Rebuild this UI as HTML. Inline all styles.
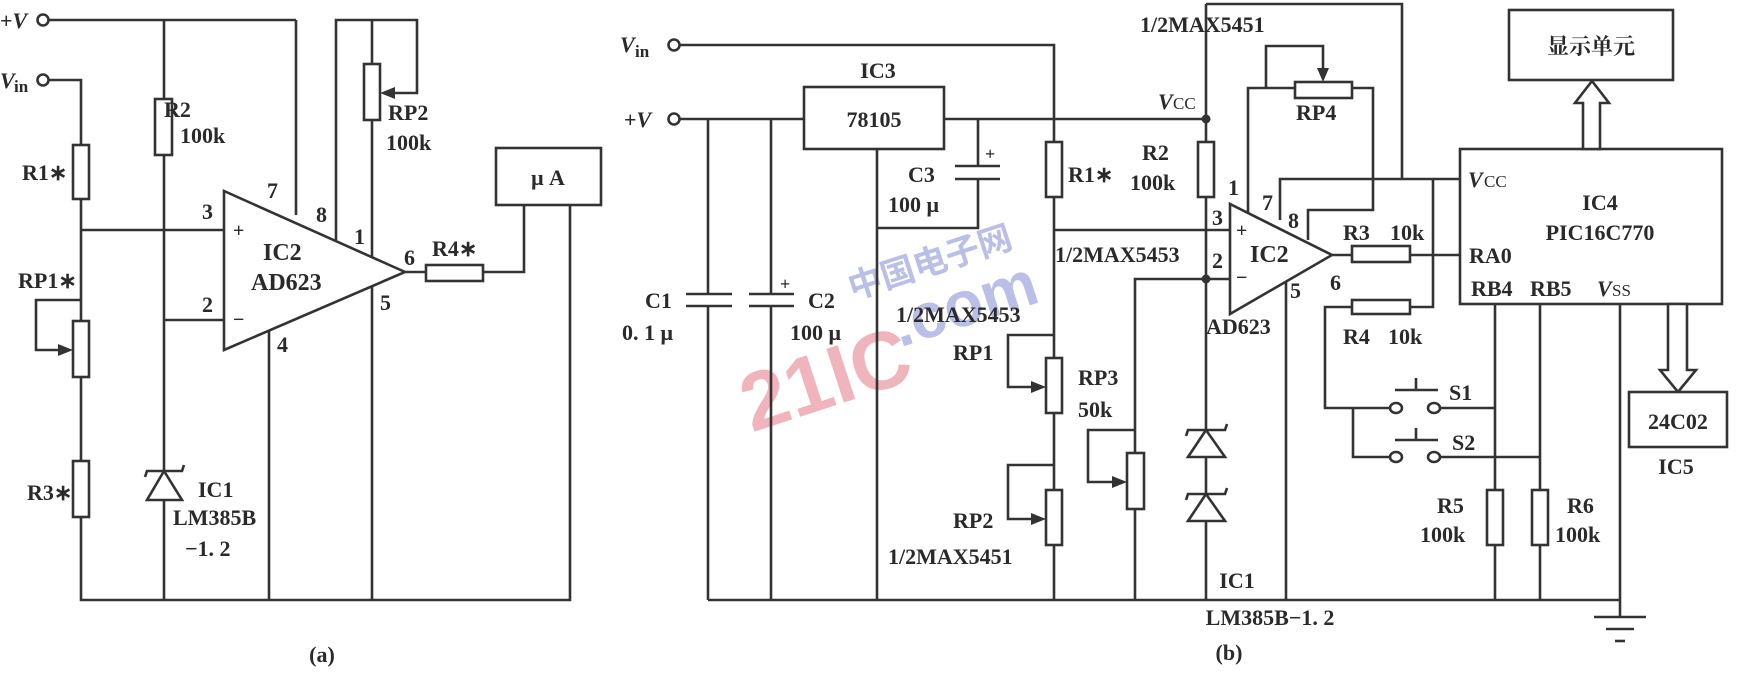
<!DOCTYPE html>
<html><head><meta charset="utf-8"><style>
html,body{margin:0;padding:0;background:#fff;}
svg{display:block}
text{font-family:"Liberation Serif","Noto Serif CJK SC",serif;font-weight:bold;fill:#2a2a2a;font-size:22px}
.l{stroke:#333;stroke-width:2.6;fill:none}
.b{stroke:#333;stroke-width:2.6;fill:#fff}
.f{fill:#333;stroke:none}
</style></head><body>
<svg width="1751" height="681" viewBox="0 0 1751 681" xmlns="http://www.w3.org/2000/svg">
<!-- watermark -->
<g transform="rotate(-18 800 380)">
<text x="738" y="415" style="font-family:'Liberation Sans',sans-serif;font-size:82px;font-weight:bold;fill:#f0b4bc">21IC</text>
<text x="905" y="380" style="font-family:'Liberation Sans',sans-serif;font-size:64px;font-weight:bold;fill:#b9bfe6">.com</text>
<text x="875" y="320" style="font-family:'Noto Sans CJK SC',sans-serif;font-size:34px;font-weight:bold;fill:#b9bfe6">中国电子网</text>
</g>

<!-- ===== Panel (a) ===== -->
<circle cx="43" cy="20" r="5.5" class="b"/>
<text x="0" y="28">+<tspan font-style="italic">V</tspan></text>
<polyline class="l" points="49,20 296,20"/>
<polyline class="l" points="336,240 336,20 417,20 417,93 385,93"/>
<polygon class="f" points="380,93 395,87 395,99"/>
<circle cx="43" cy="80" r="5.5" class="b"/>
<text x="0" y="88" font-style="italic">V</text><text x="14" y="92" style="font-size:17px">in</text>
<polyline class="l" points="49,80 81,80 81,600 570,600 570,205"/>
<rect x="73" y="145" width="16" height="54" class="b"/>
<rect x="73" y="321" width="16" height="56" class="b"/>
<rect x="73" y="461" width="16" height="56" class="b"/>
<polyline class="l" points="81,300 36,300 36,350 68,350"/>
<polygon class="f" points="73,350 58,344 58,356"/>
<line class="l" x1="81" y1="230" x2="224" y2="230"/>
<line class="l" x1="164" y1="20" x2="164" y2="600"/>
<rect x="155" y="99" width="17" height="56" class="b"/>
<line class="l" x1="164" y1="320" x2="224" y2="320"/>
<polygon class="b" points="164,471 147,500 182,500"/>
<polyline class="l" points="145,477 147,471 182,471 184,465"/>
<line class="l" x1="296" y1="20" x2="296" y2="215"/>
<line class="l" x1="372" y1="20" x2="372" y2="600"/>
<rect x="364" y="64" width="16" height="56" class="b"/>
<line class="l" x1="269" y1="300" x2="269" y2="600"/>
<polygon class="b" points="224,191 224,350 405,272"/>
<polyline class="l" points="405,272 426,272"/>
<rect x="426" y="265" width="57" height="16" class="b"/>
<polyline class="l" points="483,272 524,272 524,205"/>
<rect x="496" y="148" width="105" height="57" class="b"/>
<text x="548" y="185" text-anchor="middle">μ A</text>
<text x="164" y="117">R2</text><text x="180" y="143">100k</text>
<text x="388" y="120">RP2</text><text x="386" y="150">100k</text>
<text x="22" y="180">R1∗</text>
<text x="18" y="288">RP1∗</text>
<text x="27" y="500">R3∗</text>
<text x="198" y="497">IC1</text>
<text x="173" y="525">LM385B</text>
<text x="185" y="556">−1. 2</text>
<text x="202" y="219">3</text><text x="233" y="237" style="font-size:20px">+</text>
<text x="202" y="312">2</text><text x="233" y="326" style="font-size:20px">−</text>
<text x="267" y="198">7</text><text x="316" y="222">8</text><text x="354" y="244">1</text>
<text x="404" y="265">6</text><text x="380" y="310">5</text><text x="277" y="352">4</text>
<text x="263" y="260" style="font-size:24px">IC2</text>
<text x="251" y="290" style="font-size:24px">AD623</text>
<text x="432" y="256">R4∗</text>
<text x="322" y="662" text-anchor="middle">(a)</text>

<!-- ===== Panel (b) ===== -->
<circle cx="674" cy="45" r="5.5" class="b"/>
<text x="620" y="52" font-style="italic">V</text><text x="635" y="57" style="font-size:17px">in</text>
<polyline class="l" points="680,45 1054,45 1054,600"/>
<circle cx="674" cy="119" r="5.5" class="b"/>
<text x="624" y="127">+<tspan font-style="italic">V</tspan></text>
<line class="l" x1="680" y1="119" x2="804" y2="119"/>
<rect x="804" y="87" width="140" height="62" class="b"/>
<text x="874" y="127" text-anchor="middle">78105</text>
<text x="878" y="78" text-anchor="middle">IC3</text>
<line class="l" x1="944" y1="119" x2="1206" y2="119"/>
<!-- C1 C2 -->
<line class="l" x1="708" y1="119" x2="708" y2="294"/><line class="l" x1="708" y1="306" x2="708" y2="600"/>
<line class="l" x1="686" y1="294" x2="732" y2="294"/><line class="l" x1="686" y1="306" x2="732" y2="306"/>
<line class="l" x1="771" y1="119" x2="771" y2="294"/><line class="l" x1="771" y1="306" x2="771" y2="600"/>
<line class="l" x1="749" y1="294" x2="794" y2="294"/><line class="l" x1="749" y1="306" x2="794" y2="306"/>
<text x="780" y="290" style="font-size:18px">+</text>
<text x="645" y="308">C1</text><text x="622" y="340">0. 1 μ</text>
<text x="808" y="308">C2</text><text x="790" y="340">100 μ</text>
<!-- C3 -->
<line class="l" x1="877" y1="149" x2="877" y2="600"/>
<polyline class="l" points="978,119 978,166"/>
<line class="l" x1="955" y1="166" x2="1000" y2="166"/><line class="l" x1="955" y1="179" x2="1000" y2="179"/>
<polyline class="l" points="978,179 978,228 877,228"/>
<text x="985" y="160" style="font-size:18px">+</text>
<text x="908" y="182">C3</text><text x="888" y="212">100 μ</text>
<!-- R1 chain -->
<rect x="1046" y="142" width="16" height="55" class="b"/>
<rect x="1046" y="358" width="16" height="55" class="b"/>
<rect x="1046" y="490" width="16" height="55" class="b"/>
<line class="l" x1="1054" y1="230" x2="1230" y2="230"/>
<polyline class="l" points="1054,335 1008,335 1008,387 1040,387"/>
<polygon class="f" points="1046,387 1031,381 1031,393"/>
<polyline class="l" points="1054,465 1008,465 1008,519 1040,519"/>
<polygon class="f" points="1046,519 1031,513 1031,525"/>
<text x="1068" y="182">R1∗</text>
<text x="1055" y="262">1/2MAX5453</text>
<text x="896" y="322">1/2MAX5453</text>
<text x="953" y="360">RP1</text>
<text x="953" y="528">RP2</text>
<text x="888" y="564">1/2MAX5451</text>
<text x="1078" y="385">RP3</text><text x="1078" y="417">50k</text>
<!-- RP3 -->
<polyline class="l" points="1230,279 1135,279 1135,600"/>
<rect x="1127" y="453" width="17" height="56" class="b"/>
<polyline class="l" points="1135,430 1088,430 1088,482 1121,482"/>
<polygon class="f" points="1127,482 1112,476 1112,488"/>
<!-- VCC node column -->
<line class="l" x1="1206" y1="4" x2="1206" y2="600"/>
<rect x="1198" y="142" width="16" height="55" class="b"/>
<circle cx="1206" cy="119" r="4.5" class="f"/>
<circle cx="1206" cy="279" r="4.5" class="f"/>
<polygon class="b" points="1206,430 1188,457 1225,457"/>
<polyline class="l" points="1186,436 1188,430 1225,430 1227,424"/>
<polygon class="b" points="1206,494 1188,521 1225,521"/>
<polyline class="l" points="1186,500 1188,494 1225,494 1227,488"/>
<text x="1158" y="109" font-style="italic">V</text><text x="1173" y="109" style="font-size:17px;font-weight:normal">CC</text>
<text x="1142" y="160">R2</text><text x="1130" y="190">100k</text>
<polyline class="l" points="1206,4 1402,4 1402,179"/>
<!-- opamp b -->
<polyline class="l" points="1248,215 1248,88 1295,88"/>
<rect x="1295" y="82" width="57" height="16" class="b"/>
<polyline class="l" points="1352,88 1373,88 1373,210 1308,210 1308,240"/>
<polyline class="l" points="1266,88 1266,46 1323,46 1323,76"/>
<polygon class="f" points="1323,82 1317,68 1329,68"/>
<polyline class="l" points="1280,220 1280,179 1460,179"/>
<line class="l" x1="1286" y1="280" x2="1286" y2="600"/>
<polygon class="b" points="1230,204 1230,314 1332,255"/>
<line class="l" x1="1332" y1="255" x2="1460" y2="255"/>
<rect x="1352" y="246" width="58" height="16" class="b"/>
<polyline class="l" points="1433,179 1433,307 1410,307"/>
<rect x="1352" y="300" width="58" height="14" class="b"/>
<polyline class="l" points="1352,307 1325,307 1325,408 1391,408"/>
<polyline class="l" points="1353,408 1353,457 1391,457"/>
<text x="1140" y="32">1/2MAX5451</text>
<text x="1296" y="120">RP4</text>
<text x="1228" y="195">1</text><text x="1262" y="210">7</text><text x="1288" y="228">8</text>
<text x="1212" y="225">3</text><text x="1236" y="237" style="font-size:20px">+</text>
<text x="1212" y="268">2</text><text x="1236" y="284" style="font-size:20px">−</text>
<text x="1330" y="290">6</text><text x="1290" y="298">5</text>
<text x="1250" y="262" style="font-size:24px">IC2</text>
<text x="1206" y="334">AD623</text>
<text x="1343" y="240">R3</text><text x="1390" y="240">10k</text>
<text x="1343" y="344">R4</text><text x="1388" y="344">10k</text>
<!-- switches -->
<ellipse cx="1396" cy="408" rx="6" ry="5" class="b"/><ellipse cx="1434" cy="408" rx="6" ry="5" class="b"/>
<line class="l" x1="1395" y1="390" x2="1438" y2="390"/><line class="l" x1="1416" y1="390" x2="1416" y2="378"/>
<polyline class="l" points="1440,408 1495,408"/>
<ellipse cx="1396" cy="457" rx="6" ry="5" class="b"/><ellipse cx="1434" cy="457" rx="6" ry="5" class="b"/>
<line class="l" x1="1395" y1="440" x2="1438" y2="440"/><line class="l" x1="1416" y1="440" x2="1416" y2="428"/>
<polyline class="l" points="1440,457 1540,457"/>
<text x="1449" y="400">S1</text><text x="1452" y="450">S2</text>
<!-- PIC -->
<rect x="1460" y="149" width="262" height="155" class="b"/>
<text x="1468" y="187" font-style="italic">V</text><text x="1484" y="187" style="font-size:17px;font-weight:normal">CC</text>
<text x="1600" y="210" text-anchor="middle">IC4</text>
<text x="1600" y="240" text-anchor="middle">PIC16C770</text>
<text x="1469" y="263">RA0</text>
<text x="1471" y="296">RB4</text><text x="1530" y="296">RB5</text>
<text x="1597" y="296" font-style="italic">V</text><text x="1612" y="296" style="font-size:17px;font-weight:normal">SS</text>
<line class="l" x1="1495" y1="304" x2="1495" y2="600"/>
<line class="l" x1="1540" y1="304" x2="1540" y2="600"/>
<rect x="1487" y="490" width="16" height="55" class="b"/>
<rect x="1532" y="490" width="16" height="55" class="b"/>
<text x="1437" y="513">R5</text><text x="1420" y="542">100k</text>
<text x="1567" y="513">R6</text><text x="1555" y="542">100k</text>
<line class="l" x1="1620" y1="304" x2="1620" y2="617"/>
<line class="l" x1="708" y1="600" x2="1620" y2="600"/>
<line class="l" x1="1594" y1="617" x2="1646" y2="617"/>
<line class="l" x1="1606" y1="629" x2="1634" y2="629"/>
<line class="l" x1="1615" y1="641" x2="1625" y2="641"/>
<!-- display -->
<rect x="1509" y="10" width="164" height="70" class="b"/>
<text x="1591" y="54" text-anchor="middle" style="font-family:'Noto Serif CJK SC','Noto Sans CJK SC',serif">显示单元</text>
<polygon class="b" points="1583,149 1583,103 1575,103 1592,81 1609,103 1600,103 1600,149"/>
<polygon class="b" points="1668,304 1668,370 1660,370 1678,392 1696,370 1687,370 1687,304"/>
<rect x="1629" y="392" width="98" height="55" class="b"/>
<text x="1678" y="429" text-anchor="middle">24C02</text>
<text x="1676" y="474" text-anchor="middle">IC5</text>
<text x="1237" y="588" text-anchor="middle">IC1</text>
<text x="1270" y="625" text-anchor="middle">LM385B−1. 2</text>
<text x="1229" y="660" text-anchor="middle">(b)</text>
</svg>
</body></html>
